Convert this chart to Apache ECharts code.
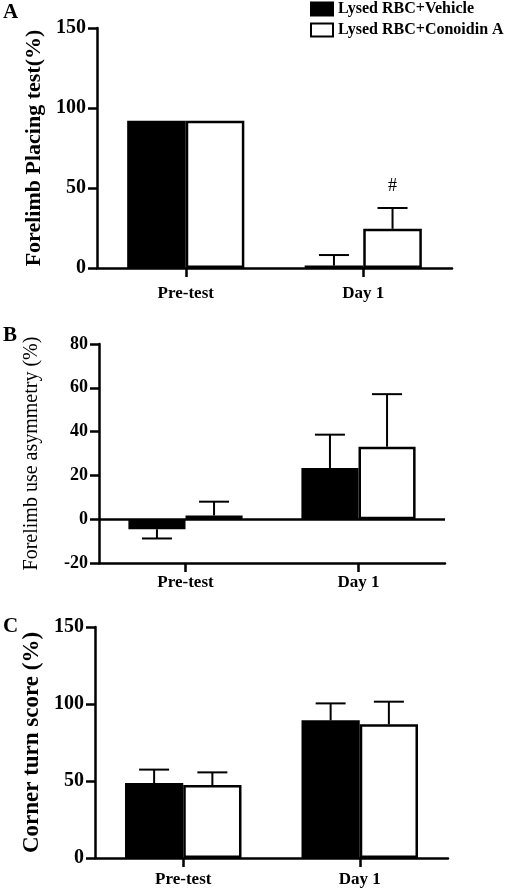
<!DOCTYPE html>
<html>
<head>
<meta charset="utf-8">
<script src="https://cdn.jsdelivr.net/npm/echarts@6/dist/echarts.min.js"></script>
<style>
html,body{margin:0;padding:0;background:#fff;}
#chart{width:514px;height:888px;}
</style>
</head>
<body>
<div id="chart"></div>
<script>
// ---- data ----
const categories = ['Pre-test', 'Day 1'];
const seriesNames = ['Lysed RBC+Vehicle', 'Lysed RBC+Conoidin A'];

// Panel A: Forelimb Placing test (%)
const vehA = [92, 1.5];
const vehAErr = [0, 6.6];
const conA = [92, 24.5];
const conAErr = [0, 13];
const sigA = ['', '#'];
const ticksA = [0, 50, 100, 150];

// Panel B: Forelimb use asymmetry (%)
const vehB = [-4.6, 23.4];
const vehBErr = [4.2, 15.2];
const conB = [1.7, 33.1];
const conBErr = [6.3, 24];
const ticksB = [-20, 0, 20, 40, 60, 80];

// Panel C: Corner turn score (%)
const vehC = [48.7, 89.4];
const vehCErr = [8.7, 11];
const conC = [47.4, 86.8];
const conCErr = [8.2, 14.7];
const ticksC = [0, 50, 100, 150];

// ---- chart ----
const FONT = 'Liberation Serif';
const GAP = 0.34;
const chart = echarts.init(document.getElementById('chart'), null, {renderer: 'canvas'});

function errData(vals, errs) {
  return vals.map((v, i) => [i, v, errs[i]]);
}
function errRenderer(side, labels) {
  return function (params, api) {
    const cat = api.value(0), m = api.value(1), e = api.value(2);
    const band = api.size([1, 0])[0];
    const bw = band * (1 - GAP) / 2;
    const p0 = api.coord([cat, m]);
    const x = p0[0] + side * bw / 2;
    const y0 = p0[1];
    const end = m < 0 ? m - e : m + e;
    const y1 = api.coord([cat, end])[1];
    const children = [];
    const st = {stroke: '#000', lineWidth: 2};
    if (e > 0) {
      children.push({type: 'line', shape: {x1: x, y1: y0, x2: x, y2: y1}, style: st});
      children.push({type: 'line', shape: {x1: x - 15, y1: y1, x2: x + 15, y2: y1}, style: st});
    }
    if (labels && labels[cat]) {
      children.push({type: 'text', x: x, y: y1 - 13, style: {
        text: labels[cat], font: 'normal 18px ' + FONT, fill: '#000',
        align: 'center', verticalAlign: 'bottom'}});
    }
    return {type: 'group', children: children};
  };
}

const grids = [
  {left: 97, top: 28, right: 62, height: 240, outerBoundsMode: 'none', containLabel: false},
  {left: 99, top: 344, right: 69, height: 219, outerBoundsMode: 'none', containLabel: false},
  {left: 95, top: 627, right: 66, height: 231, outerBoundsMode: 'none', containLabel: false}
];
const xMargins = [17, 11, 13];
const yCfg = [
  {min: 0, max: 150, interval: 50, name: 'Forelimb Placing test(%)', w: 'bold', fs: 22, gap: 51, lfs: 20},
  {min: -20, max: 80, interval: 20, name: 'Forelimb use asymmetry (%)', w: 'normal', fs: 20, gap: 57, lfs: 18},
  {min: 0, max: 150, interval: 50, name: 'Corner turn score (%)', w: 'bold', fs: 23, gap: 50, lfs: 20}
];
const axisLine = {show: true, onZero: false, lineStyle: {color: '#000', width: 2.5}};

const xAxes = grids.map((g, i) => ({
  type: 'category', gridIndex: i, data: categories,
  axisLine: axisLine,
  axisTick: {show: true, alignWithLabel: true, length: 9, lineStyle: {color: '#000', width: 2.5}},
  axisLabel: {color: '#000', fontFamily: FONT, fontWeight: 'bold', fontSize: 17, margin: xMargins[i]},
  splitLine: {show: false}
}));
const yAxes = yCfg.map((c, i) => ({
  type: 'value', gridIndex: i, min: c.min, max: c.max, interval: c.interval,
  name: c.name, nameLocation: 'middle', nameRotate: 90, nameGap: c.gap,
  nameTextStyle: {color: '#000', fontFamily: FONT, fontWeight: c.w, fontSize: c.fs},
  axisLine: {show: true, lineStyle: {color: '#000', width: 2.5}},
  axisTick: {show: true, length: 9, lineStyle: {color: '#000', width: 2.5}},
  axisLabel: {color: '#000', fontFamily: FONT, fontWeight: 'bold', fontSize: c.lfs, margin: 11},
  splitLine: {show: false}
}));

const panels = [
  {veh: vehA, vehErr: vehAErr, con: conA, conErr: conAErr, sig: sigA},
  {veh: vehB, vehErr: vehBErr, con: conB, conErr: conBErr, sig: null, zero: true},
  {veh: vehC, vehErr: vehCErr, con: conC, conErr: conCErr, sig: null}
];
const series = [];
panels.forEach((p, i) => {
  const vehSeries = {
    name: seriesNames[0], type: 'bar', xAxisIndex: i, yAxisIndex: i, data: p.veh,
    barGap: '0%', barCategoryGap: (GAP * 100) + '%',
    itemStyle: {color: '#000', borderColor: '#000', borderWidth: 2}
  };
  if (p.zero) {
    vehSeries.markLine = {silent: true, symbol: 'none', label: {show: false},
      lineStyle: {color: '#000', width: 2.5, type: 'solid'}, data: [{yAxis: 0}], z: 5};
  }
  series.push(vehSeries);
  series.push({
    name: seriesNames[1], type: 'bar', xAxisIndex: i, yAxisIndex: i, data: p.con,
    barGap: '0%', barCategoryGap: (GAP * 100) + '%',
    itemStyle: {color: '#fff', borderColor: '#000', borderWidth: 2.5}
  });
  series.push({type: 'custom', xAxisIndex: i, yAxisIndex: i, z: 10,
    data: errData(p.veh, p.vehErr), renderItem: errRenderer(-1, null)});
  series.push({type: 'custom', xAxisIndex: i, yAxisIndex: i, z: 10,
    data: errData(p.con, p.conErr), renderItem: errRenderer(1, p.sig)});
});

chart.setOption({
  animation: false,
  backgroundColor: '#fff',
  grid: grids,
  xAxis: xAxes,
  yAxis: yAxes,
  legend: {
    orient: 'vertical', left: 310, top: 1, padding: 0,
    itemWidth: 22, itemHeight: 13, itemGap: 5,
    icon: 'rect',
    data: seriesNames,
    textStyle: {color: '#000', fontFamily: FONT, fontWeight: 'bold', fontSize: 16}
  },
  graphic: [
    {type: 'text', left: 3, top: 2, style: {text: 'A', font: 'bold 21px ' + FONT, fill: '#000'}},
    {type: 'text', left: 3, top: 325, style: {text: 'B', font: 'bold 21px ' + FONT, fill: '#000'}},
    {type: 'text', left: 3, top: 616, style: {text: 'C', font: 'bold 21px ' + FONT, fill: '#000'}}
  ],
  series: series
});
</script>
</body>
</html>
